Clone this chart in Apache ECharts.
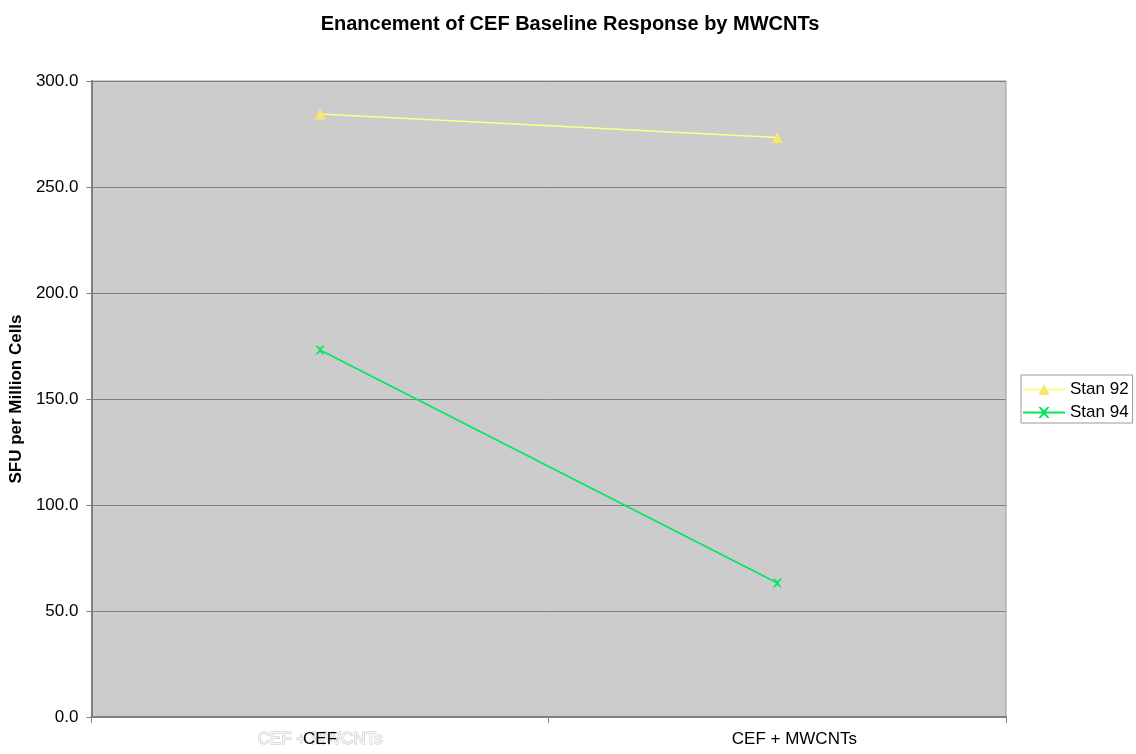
<!DOCTYPE html>
<html>
<head>
<meta charset="utf-8">
<script src="https://cdn.jsdelivr.net/npm/echarts@6/dist/echarts.min.js"></script>
<style>html,body{margin:0;padding:0;background:#fff;}#c{width:1136px;height:754px;}</style>
</head>
<body>
<div id="c"></div>
<script>
var categories = ['CEF', 'CEF + MWCNTs'];
var ghostLabels = ['CEF + MWCNTs', ''];
var stan92 = [284.4, 273.3];
var stan94 = [173.1, 63.2];
var yTicks = { min: 0, max: 300, interval: 50 };

var chart = echarts.init(document.getElementById('c'));
var font = 'Liberation Sans, Arial, sans-serif';
chart.setOption({
  backgroundColor: '#ffffff',
  animation: false,
  title: {
    text: 'Enancement of CEF Baseline Response by MWCNTs',
    left: 565, textAlign: 'center', top: 9,
    textStyle: { fontFamily: font, fontSize: 20, fontWeight: 'bold', color: '#000' }
  },
  legend: {
    orient: 'vertical', left: 1021, top: 375,
    backgroundColor: '#fff', borderColor: '#999', borderWidth: 1,
    padding: [6, 4, 2, 1], itemGap: 6, itemWidth: 42, itemHeight: 14,
    textStyle: { fontFamily: font, fontSize: 17, color: '#000' },
    data: ['Stan 92', 'Stan 94']
  },
  grid: { left: 90, right: 130, top: 81, bottom: 37, show: true, backgroundColor: '#cccccc', borderColor: '#999999', borderWidth: 1 },
  xAxis: [{
    type: 'category', data: categories, boundaryGap: true,
    axisLine: { lineStyle: { color: '#808080', width: 2 } },
    axisTick: { show: true, length: 6, inside: false, lineStyle: { color: '#808080' } },
    axisLabel: {
      fontFamily: font, fontSize: 17, color: '#000', margin: 14,
      formatter: function (v, i) { return i === 1 ? '{r|' + v + '}' : v; },
      rich: { r: { fontFamily: font, fontSize: 17, color: '#000', padding: [0, 0, 0, 34] } }
    },
    splitLine: { show: false }, z: 5
  }, {
    type: 'category', data: ghostLabels, position: 'bottom', boundaryGap: true,
    axisLine: { show: false }, axisTick: { show: false },
    axisLabel: { fontFamily: font, fontSize: 17, color: '#f6f6f6', textBorderColor: '#c4c4c4', textBorderWidth: 1, margin: 14 },
    splitLine: { show: false }, z: 1
  }],
  yAxis: {
    type: 'value', min: yTicks.min, max: yTicks.max, interval: yTicks.interval,
    name: 'SFU per Million Cells', nameLocation: 'middle', nameGap: 61,
    nameTextStyle: { fontFamily: font, fontSize: 17, fontWeight: 'bold', color: '#000' },
    axisLine: { show: true, lineStyle: { color: '#808080', width: 2 } },
    axisTick: { show: true, length: 5, lineStyle: { color: '#808080' } },
    axisLabel: { fontFamily: font, fontSize: 17, color: '#000', margin: 13, formatter: function (v) { return v.toFixed(1); } },
    splitLine: { show: true, lineStyle: { color: '#808080', width: 1 } }
  },
  series: [{
    name: 'Stan 92', type: 'line', data: stan92,
    symbol: 'triangle', symbolSize: 11,
    lineStyle: { color: '#ffff88', width: 1.5 },
    itemStyle: { color: '#f5e96c' }
  }, {
    name: 'Stan 94', type: 'line', data: stan94,
    symbol: 'path://M0,0 L2,0 L5,3 L8,0 L10,0 L6,5 L10,10 L8,10 L5,7 L2,10 L0,10 L4,5 Z', symbolSize: 9,
    lineStyle: { color: '#00e65c', width: 1.5 },
    itemStyle: { color: '#00e65c' }
  }]
});
</script>
</body>
</html>
